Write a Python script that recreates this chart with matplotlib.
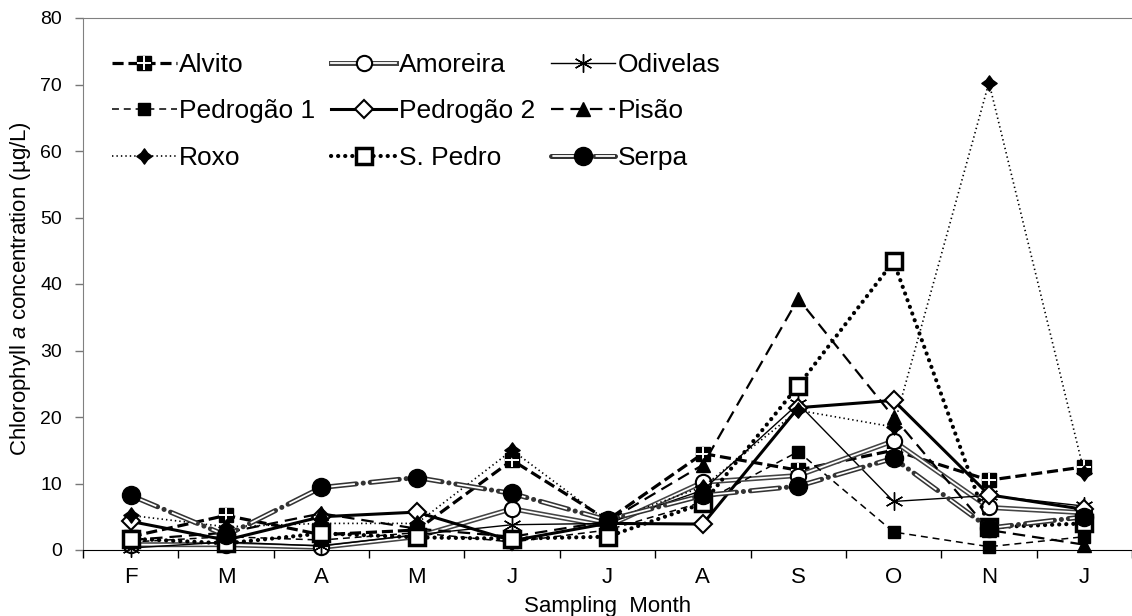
import numpy as np
import matplotlib.pyplot as plt
from matplotlib.path import Path

plt.rcParams['font.family'] = ['Liberation Sans', 'DejaVu Sans']
plt.rcParams['mathtext.fontset'] = 'custom'
plt.rcParams['mathtext.rm'] = 'Liberation Sans'
plt.rcParams['mathtext.it'] = 'Liberation Sans:italic'
plt.rcParams['lines.scale_dashes'] = False

months = ['F', 'M', 'A', 'M', 'J', 'J', 'A', 'S', 'O', 'N', 'J']

alvito = [2.0, 5.2, 2.3, 3.0, 13.5, 4.5, 14.5, 12.0, 15.0, 10.5, 12.5]
amoreira = [0.8, 0.8, 0.4, 2.0, 6.2, 3.6, 10.2, 11.2, 16.4, 6.4, 5.6]
odivelas = [0.3, 1.2, 0.6, 2.3, 3.8, 4.0, 9.0, 22.0, 7.3, 8.2, 6.6]
pedrogao1 = [1.2, 2.0, 1.5, 2.6, 1.2, 3.0, 7.2, 14.8, 2.7, 0.5, 2.0]
pedrogao2 = [4.3, 1.5, 5.0, 5.7, 1.4, 4.0, 3.9, 21.4, 22.5, 8.3, 6.1]
pisao = [1.5, 2.6, 5.5, 3.2, 2.0, 4.3, 12.8, 37.8, 20.0, 3.0, 0.8]
roxo = [5.2, 3.5, 4.0, 4.0, 15.0, 4.3, 9.5, 21.0, 18.5, 70.3, 11.6]
spedro = [1.7, 1.0, 2.5, 1.9, 1.7, 2.0, 7.0, 24.7, 43.4, 3.4, 4.0]
serpa = [8.2, 2.2, 9.4, 10.9, 8.5, 4.5, 8.2, 9.6, 13.8, 3.3, 5.0]

x = np.arange(len(months))

# four pointed blob used for Roxo
k = 0.42
star = Path([(0, 1), (k, k), (1, 0), (k, -k), (0, -1), (-k, -k), (-1, 0), (-k, k), (0, 1)],
            [Path.MOVETO] + [Path.LINETO] * 7 + [Path.CLOSEPOLY])

fig = plt.figure(figsize=(11.32, 6.16), dpi=100)
ax = fig.add_axes([83/1132, 66/616, 1049/1132, 532/616])

H = {}
kw = dict(clip_on=False)

# Alvito: thick dashes, black square with white cross
a1, = ax.plot(x, alvito, color='k', lw=2.3, ls=(0, (8, 3.5)), marker='s', ms=9.5,
              mfc='k', mec='k', zorder=3.0, **kw)
a2, = ax.plot(x, alvito, ls='none', marker='+', ms=9.5, mec='white', mew=1.4, zorder=3.0, **kw)
H['Alvito'] = (a1, a2)

# Amoreira: double line, open circle
b1, = ax.plot(x, amoreira, color='#444444', lw=3.6, zorder=3.1, **kw)
b2, = ax.plot(x, amoreira, color='white', lw=1.3, marker='o', ms=11, mfc='white',
              mec='k', mew=1.5, zorder=3.1, **kw)
H['Amoreira'] = (b1, b2)

# Odivelas: thin solid, asterisk
c1, = ax.plot(x, odivelas, color='k', lw=1.0, marker=(6, 2, 0), ms=13, mec='k', mew=1.0,
              zorder=3.2, **kw)
H['Odivelas'] = (c1,)

# Pedrogao 1: thin dashes, filled square
d1, = ax.plot(x, pedrogao1, color='k', lw=1.1, ls=(0, (5, 3.5)), marker='s', ms=9,
              mfc='k', mec='k', zorder=3.3, **kw)
H['Pedrogão 1'] = (d1,)

# Pedrogao 2: thick solid, open diamond
e1, = ax.plot(x, pedrogao2, color='k', lw=2.2, marker='D', ms=9, mfc='white', mec='k',
              mew=1.5, zorder=3.4, **kw)
H['Pedrogão 2'] = (e1,)

# Pisao: medium dashes, filled triangle
f1, = ax.plot(x, pisao, color='k', lw=1.6, ls=(0, (9, 5)), marker='^', ms=10,
              mfc='k', mec='k', zorder=3.5, **kw)
H['Pisão'] = (f1,)

# Roxo: fine dots
g1, = ax.plot(x, roxo, color='k', lw=1.2, ls=(0, (1, 2.2)), marker=star, ms=11,
              mfc='k', mec='k', zorder=3.6, **kw)
H['Roxo'] = (g1,)

# S. Pedro: heavy round dots, large open square
h1, = ax.plot(x, spedro, color='k', lw=3.0, ls=(0, (0.1, 5)), dash_capstyle='round',
              marker='s', ms=12, mfc='white', mec='k', mew=2.5, zorder=3.7, **kw)
H['S. Pedro'] = (h1,)

# Serpa: double line dash-dot, big filled circle
s1, = ax.plot(x, serpa, color='#333333', lw=3.6, ls=(0, (21, 5, 0.1, 5)),
              dash_capstyle='round', zorder=3.8, **kw)
s2, = ax.plot(x, serpa, color='white', lw=1.3, ls=(30.1, (19, 12.1)), zorder=3.8, **kw)
s3, = ax.plot(x, serpa, ls='none', marker='o', ms=13, mfc='k', mec='k', zorder=3.8, **kw)
H['Serpa'] = (s1, s2, s3)

# legend is filled column by column
order = ['Alvito', 'Pedrogão 1', 'Roxo',
         'Amoreira', 'Pedrogão 2', 'S. Pedro',
         'Odivelas', 'Pisão', 'Serpa']
ax.legend([H[n] for n in order], order, ncol=3, loc='upper left',
          bbox_to_anchor=(112/1132, 1 - 53/616), bbox_transform=fig.transFigure,
          frameon=False, fontsize=19, handlelength=2.45, handletextpad=0.1,
          columnspacing=0.6, labelspacing=0.85, borderpad=0, borderaxespad=0,
          numpoints=1)

ax.set_xlim(-0.5, 10.5)
ax.set_ylim(0, 80)
ax.set_yticks(np.arange(0, 81, 10))
ax.tick_params(axis='y', direction='out', length=6, width=1, color='#777777',
               labelsize=14, pad=9)
ax.set_xticks(x)
ax.set_xticklabels(months, fontsize=16)
ax.tick_params(axis='x', which='major', length=0, pad=12)
ax.set_xticks(np.arange(-0.5, 11, 1), minor=True)
ax.tick_params(axis='x', which='minor', direction='out', length=6, width=1, color='k')

ax.spines['right'].set_visible(False)
ax.spines['top'].set_color('#808080')
ax.spines['left'].set_color('#808080')
ax.spines['bottom'].set_color('k')

ax.set_xlabel('Sampling  Month', fontsize=16, labelpad=6)
fig.text(21/1132, 1 - 289/616, 'Chlorophyll $\\it{a}$ concentration (µg/L)',
         rotation=90, ha='center', va='center', fontsize=16)

fig.savefig('out.png', dpi=100)
